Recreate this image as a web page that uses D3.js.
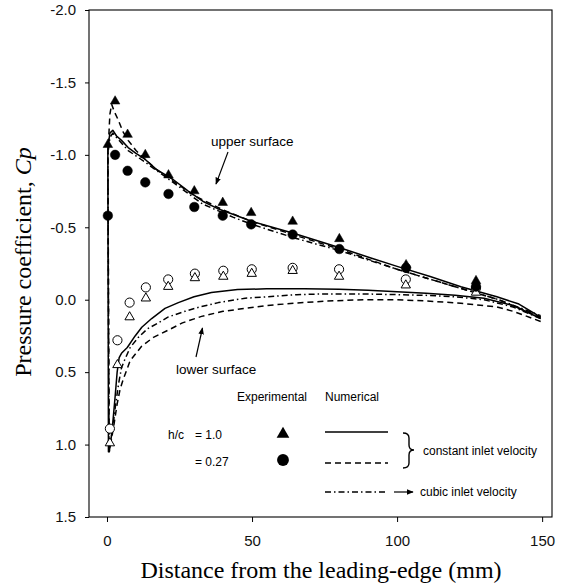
<!DOCTYPE html>
<html>
<head>
<meta charset="utf-8">
<script src="https://cdn.jsdelivr.net/npm/d3@7"></script>
<style>
  html, body { margin: 0; padding: 0; background: #fff; }
  svg { display: block; }
</style>
</head>
<body>
<svg id="chart" width="566" height="584"></svg>
<script>
// ---------- data ----------
const xTicks = [0, 50, 100, 150];
const yTicks = [-2.0, -1.5, -1.0, -0.5, 0.0, 0.5, 1.0, 1.5];

// experimental, upper surface
const upperX = [0.3, 2.8, 7.1, 13.2, 21.2, 30.1, 39.9, 49.7, 64, 80.1, 103.1, 127.2];
const triUpper = [-1.07, -1.37, -1.14, -1.00, -0.86, -0.75, -0.67, -0.60, -0.54, -0.42, -0.24, -0.13];
const circUpper = [-0.58, -1.00, -0.89, -0.81, -0.73, -0.64, -0.58, -0.52, -0.45, -0.35, -0.22, -0.09];

// experimental, lower surface
const lowerX = [1.0, 3.6, 7.8, 13.4, 21.1, 30.3, 40.1, 49.9, 64, 80, 103, 127.2];
const triLower = [0.99, 0.45, 0.12, -0.01, -0.09, -0.15, -0.16, -0.18, -0.20, -0.16, -0.10, -0.05];
const circLower = [0.89, 0.28, 0.02, -0.085, -0.14, -0.18, -0.20, -0.21, -0.22, -0.21, -0.14, -0.08];

// numerical: h/c = 1.0 constant inlet (solid) — trailing edge lower -> leading edge -> trailing edge upper
const solidX = [149.5, 140, 130, 120, 110, 100, 90, 80, 68, 55, 45, 36, 30, 24.6, 20, 15.4, 12, 9.7, 7, 5, 4.2, 3.5, 2.8, 2, 1.2, 0.5,
                0.3, 1, 2, 3.3, 5, 7.3, 10, 13.1, 17, 22.8, 28, 33, 38, 43.4, 50, 57, 64, 72, 80, 90.7, 100, 111.4, 122, 134.4, 142, 149.5];
const solidCp = [0.13, 0.04, -0.01, -0.03, -0.045, -0.055, -0.065, -0.072, -0.076, -0.075, -0.07, -0.05, -0.02, 0.02, 0.06, 0.13, 0.19, 0.25, 0.33, 0.37, 0.40, 0.50, 0.67, 0.85, 1.0, 1.05,
                 -1.05, -1.15, -1.17, -1.13, -1.10, -1.05, -1.01, -0.97, -0.90, -0.83, -0.75, -0.68, -0.63, -0.59, -0.54, -0.50, -0.46, -0.41, -0.36, -0.29, -0.23, -0.16, -0.09, -0.02, 0.03, 0.12];

// numerical: h/c = 0.27 constant inlet (dashed)
const dashX = [149.5, 140, 134.4, 122, 111.4, 100, 88.3, 75, 65.4, 55, 47.6, 40, 32.6, 26, 21.1, 16, 12, 8, 5.6, 4.5, 3.5, 2.5, 1.5, 0.8,
               0.3, 1, 1.6, 2.5, 3.9, 5.5, 7.3, 10, 13.1, 17, 22, 30, 40, 50, 64, 80, 100, 120, 135, 149.5];
const dashCp = [0.15, 0.08, 0.05, 0.025, 0.01, 0.0, 0.0, 0.01, 0.023, 0.04, 0.06, 0.08, 0.115, 0.16, 0.21, 0.26, 0.32, 0.42, 0.55, 0.62, 0.72, 0.85, 0.97, 1.05,
                -1.0, -1.28, -1.35, -1.30, -1.24, -1.16, -1.10, -1.03, -0.97, -0.90, -0.83, -0.72, -0.62, -0.54, -0.45, -0.35, -0.21, -0.09, 0.0, 0.12];

// numerical: cubic inlet velocity (dash-dot)
const dotX = [149.5, 140, 130, 120, 110, 100, 88.4, 75, 65.4, 55, 47.6, 38.4, 32, 26.9, 21, 17.7, 14, 10.8, 8, 6, 5, 4, 3, 2, 1.2, 0.7,
              0.3, 1, 2, 3.3, 7.3, 13.1, 22.8, 33, 43.4, 50, 64, 80, 100, 120, 135, 149.5];
const dotCp = [0.13, 0.05, 0.0, -0.02, -0.03, -0.035, -0.04, -0.04, -0.035, -0.02, -0.01, 0.02, 0.05, 0.08, 0.12, 0.16, 0.20, 0.26, 0.33, 0.42, 0.47, 0.58, 0.72, 0.88, 1.0, 1.05,
               -1.0, -1.12, -1.15, -1.12, -1.03, -0.95, -0.81, -0.66, -0.57, -0.52, -0.43, -0.34, -0.21, -0.09, 0.0, 0.11];

// ---------- chart ----------
const svg = d3.select("#chart");
const L = 89, R = 552, T = 10, B = 517;
const x = d3.scaleLinear().domain([-6.2, 153.4]).range([L, R]);
const y = d3.scaleLinear().domain([-2.0, 1.5]).range([T, B]);

// frame
svg.append("rect").attr("x", L).attr("y", T).attr("width", R - L).attr("height", B - T)
  .attr("fill", "none").attr("stroke", "#000").attr("stroke-width", 1.1);

// axes
const yAxis = d3.axisLeft(y).tickValues(yTicks).tickSize(4).tickPadding(9).tickFormat(d3.format(".1f"));
const gy = svg.append("g").attr("transform", `translate(${L},0)`).call(yAxis);
gy.select(".domain").remove();
gy.selectAll("text").attr("font-family", "'Liberation Sans', Arial, sans-serif").attr("font-size", 15).attr("fill", "#111")
  .text(d => d3.format(".1f")(d).replace("−", "-"));

const xAxis = d3.axisBottom(x).tickValues(xTicks).tickSize(5).tickPadding(13);
const gx = svg.append("g").attr("transform", `translate(0,${B})`).call(xAxis);
gx.select(".domain").remove();
gx.selectAll("text").attr("font-family", "'Liberation Sans', Arial, sans-serif").attr("font-size", 15).attr("fill", "#111");

// axis titles
svg.append("text").attr("x", 321).attr("y", 578).attr("text-anchor", "middle")
  .attr("font-family", "'Liberation Serif', 'Times New Roman', serif").attr("font-size", 24)
  .text("Distance from the leading-edge (mm)");
const yt = svg.append("text").attr("transform", "translate(31,262) rotate(-90)").attr("text-anchor", "middle")
  .attr("font-family", "'Liberation Serif', 'Times New Roman', serif").attr("font-size", 24);
yt.append("tspan").text("Pressure coefficient, ");
yt.append("tspan").attr("font-style", "italic").text("Cp");

// lines
const line = d3.line().x(d => x(d[0])).y(d => y(d[1]));
const seriesLines = [
  { xs: solidX, ys: solidCp, dash: null },
  { xs: dotX, ys: dotCp, dash: "6,3,1.5,3" },
  { xs: dashX, ys: dashCp, dash: "6,4" }
];
seriesLines.forEach(s => {
  svg.append("path").datum(s.xs.map((v, i) => [v, s.ys[i]]))
    .attr("d", line).attr("fill", "none").attr("stroke", "#000").attr("stroke-width", 1.5)
    .attr("stroke-linejoin", "round")
    .attr("stroke-dasharray", s.dash);
});

// markers
const tri = d3.symbol(d3.symbolTriangle, 40)();
const triOpen = d3.symbol(d3.symbolTriangle, 38)();
const circ = d3.symbol(d3.symbolCircle, 72)();
const circOpen = d3.symbol(d3.symbolCircle, 66)();

function pts(xs, ys, path, filled) {
  svg.append("g").selectAll("path").data(xs.map((v, i) => [v, ys[i]])).join("path")
    .attr("d", path)
    .attr("transform", d => `translate(${x(d[0])},${y(d[1])})`)
    .attr("fill", filled ? "#000" : "#fff")
    .attr("stroke", "#000").attr("stroke-width", filled ? 0.5 : 1);
}
pts(lowerX, circLower, circOpen, false);
pts(lowerX, triLower, triOpen, false);
pts(upperX, circUpper, circ, true);
pts(upperX, triUpper, tri, true);

// annotations
const sans = "'Liberation Sans', Arial, sans-serif";
svg.append("defs").append("marker").attr("id", "ah").attr("viewBox", "0 0 10 10")
  .attr("refX", 9).attr("refY", 5).attr("markerWidth", 7).attr("markerHeight", 7)
  .attr("orient", "auto").attr("markerUnits", "userSpaceOnUse")
  .append("path").attr("d", "M0,1 L10,5 L0,9 Z").attr("fill", "#000");

svg.append("text").attr("x", 211).attr("y", 146).attr("font-family", sans).attr("font-size", 13.5).text("upper surface");
svg.append("line").attr("x1", 228).attr("y1", 152).attr("x2", 216).attr("y2", 184)
  .attr("stroke", "#000").attr("stroke-width", 1.2).attr("marker-end", "url(#ah)");

svg.append("text").attr("x", 176).attr("y", 374).attr("font-family", sans).attr("font-size", 13.5).text("lower surface");
svg.append("line").attr("x1", 196).attr("y1", 357).attr("x2", 202.5).attr("y2", 328)
  .attr("stroke", "#000").attr("stroke-width", 1.2).attr("marker-end", "url(#ah)");

// legend
const lg = svg.append("g").attr("font-family", sans).attr("font-size", 12);
lg.append("text").attr("x", 237).attr("y", 401).text("Experimental");
lg.append("text").attr("x", 325).attr("y", 401).text("Numerical");
lg.append("text").attr("x", 168).attr("y", 439).text("h/c");
lg.append("text").attr("x", 195).attr("y", 439).text("= 1.0");
lg.append("text").attr("x", 195).attr("y", 466).text("= 0.27");
lg.append("path").attr("d", d3.symbol(d3.symbolTriangle, 70)()).attr("transform", "translate(283,434)");
lg.append("path").attr("d", d3.symbol(d3.symbolCircle, 110)()).attr("transform", "translate(283,460)");
lg.append("line").attr("x1", 325).attr("x2", 388).attr("y1", 432).attr("y2", 432).attr("stroke", "#000").attr("stroke-width", 1.5);
lg.append("line").attr("x1", 325).attr("x2", 388).attr("y1", 463).attr("y2", 463).attr("stroke", "#000").attr("stroke-width", 1.3).attr("stroke-dasharray", "6,4");
lg.append("line").attr("x1", 325).attr("x2", 388).attr("y1", 492).attr("y2", 492).attr("stroke", "#000").attr("stroke-width", 1.3).attr("stroke-dasharray", "6,3,1.5,3");
// brace
lg.append("path").attr("d", "M403,433 Q409,433 409,438 L409,445 Q409,450 414,450 Q409,450 409,455 L409,463 Q409,468 403,468")
  .attr("fill", "none").attr("stroke", "#000").attr("stroke-width", 1.4);
lg.append("text").attr("x", 423).attr("y", 455).text("constant inlet velocity");
lg.append("line").attr("x1", 394).attr("x2", 413).attr("y1", 492).attr("y2", 492).attr("stroke", "#000").attr("stroke-width", 1.2).attr("marker-end", "url(#ah)");
lg.append("text").attr("x", 420).attr("y", 496).text("cubic inlet velocity");
</script>
</body>
</html>
